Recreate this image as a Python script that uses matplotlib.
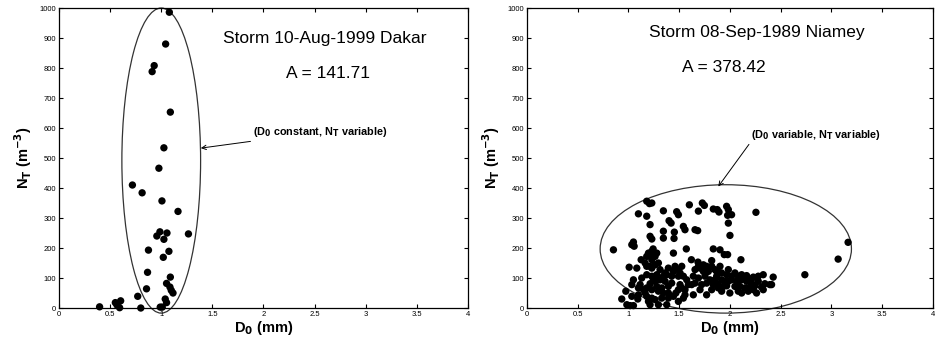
import matplotlib
matplotlib.use("Agg")
import matplotlib.pyplot as plt
from matplotlib.patches import Ellipse

plt.rcParams['font.family'] = ['Liberation Sans', 'DejaVu Sans']

# ---- Left panel data: Dakar 10-Aug-1999 ----
dakar_d0 = [1.079, 1.043, 0.931, 0.911, 1.089, 1.026, 0.977, 0.718, 0.813, 1.007,
            1.164, 1.266, 0.987, 0.957, 1.056, 1.026, 0.875, 1.075, 1.020, 0.866,
            1.089, 1.052, 1.085, 1.098, 1.115, 0.856, 0.770, 1.039, 1.052, 0.990,
            1.010, 0.800, 0.603, 0.551, 0.567, 0.593, 0.397]
dakar_nt = [986, 880, 808, 788, 653, 534, 466, 410, 384, 357,
            322, 247, 254, 240, 250, 229, 193, 189, 169, 119,
            103, 82, 70, 59, 50, 64, 39, 30, 18, 3,
            3, 0, 24, 18, 10, 1, 4]

# ---- Right panel data: Niamey 08-Sep-1989 ----
niamey_d0 = [1.180, 1.207, 1.230, 1.098, 1.180, 1.213, 1.344, 1.475, 1.492, 1.600,
             1.728, 1.748, 1.689, 1.836, 1.875, 1.892, 1.967, 1.984, 2.016, 1.977,
             2.256, 1.984, 2.000, 1.400, 1.420, 1.541, 1.557, 1.656, 1.682, 1.344,
             1.452, 1.213, 1.230, 1.344, 1.449, 1.049, 1.033, 1.056, 0.852, 1.243,
             1.570, 1.836, 1.902, 1.944, 1.977, 1.443, 1.125, 1.207, 1.262, 1.180,
             1.230, 1.295, 1.620, 1.685, 1.820, 1.902, 2.108, 3.066, 3.164, 2.738,
             1.007, 1.082, 1.180, 1.230, 1.311, 1.393, 1.459, 1.492, 1.525, 1.377,
             1.344, 1.426, 1.492, 1.541, 1.656, 1.705, 1.738, 1.787, 1.852, 1.984,
             2.049, 2.115, 2.164, 2.230, 2.328, 2.426, 1.639, 1.689, 1.754, 1.803,
             1.869, 1.918, 1.951, 2.016, 2.066, 2.115, 2.164, 2.213, 2.279, 2.344,
             2.393, 1.656, 1.721, 1.770, 1.836, 1.885, 1.934, 1.967, 2.049, 2.098,
             2.148, 2.197, 2.246, 2.311, 2.410, 2.328, 2.262, 2.082, 2.115, 1.999,
             1.885, 1.770, 1.820, 1.705, 1.590, 1.574, 1.508, 1.426, 1.361, 1.311,
             1.262, 1.230, 1.180, 1.131, 1.049, 1.033, 1.115, 1.213, 1.279, 1.328,
             1.393, 1.492, 1.525, 1.230, 1.180, 1.295, 1.344, 1.393, 1.467, 1.557,
             1.639, 1.541, 1.492, 1.164, 1.098, 1.033, 0.974, 1.092, 0.934, 0.984,
             1.016, 1.049, 1.197, 1.213, 1.295, 1.377, 1.262, 1.328, 1.393, 1.443,
             1.180, 1.230, 1.148, 1.098, 1.246, 1.279, 1.361, 1.443, 1.508, 1.213,
             1.262, 1.164, 1.197, 1.230, 1.279, 1.820, 1.770, 1.738, 1.689, 1.869,
             1.918, 1.967, 2.016, 2.082, 2.148, 2.213, 2.279, 1.852, 1.984, 1.918,
             2.180, 2.230, 1.623, 1.557]
niamey_nt = [356, 348, 350, 314, 306, 278, 324, 321, 311, 344,
             350, 342, 323, 330, 328, 320, 339, 328, 311, 309,
             319, 283, 242, 291, 283, 272, 261, 261, 258, 256,
             253, 239, 230, 233, 232, 220, 211, 206, 194, 197,
             197, 197, 194, 178, 178, 183, 161, 178, 172, 172,
             161, 150, 161, 153, 158, 139, 161, 163, 219, 111,
             136, 133, 139, 133, 128, 133, 139, 128, 139, 111,
             106, 106, 106, 106, 128, 133, 122, 122, 128, 128,
             117, 111, 108, 103, 111, 103, 106, 100, 106, 94,
             106, 94, 89, 94, 89, 94, 89, 83, 89, 81,
             78, 83, 78, 83, 78, 78, 72, 74, 72, 72,
             67, 70, 74, 70, 78, 61, 50, 56, 50, 50,
             67, 44, 61, 61, 78, 94, 78, 83, 89, 94,
             89, 106, 111, 100, 94, 78, 78, 81, 72, 67,
             72, 61, 67, 61, 67, 56, 50, 50, 50, 44,
             44, 33, 22, 50, 44, 39, 56, 30, 30, 11,
             8, 8, 22, 11, 11, 11, 28, 33, 33, 39,
             39, 33, 61, 67, 94, 111, 117, 122, 117, 139,
             144, 150, 183, 189, 183, 139, 139, 144, 139, 122,
             117, 111, 106, 106, 103, 97, 106, 94, 89, 56,
             56, 61, 78, 61]

x_ticks = [0, 0.5, 1, 1.5, 2, 2.5, 3, 3.5, 4]
x_ticklabels = ['0', '0.5', '1', '1.5', '2', '2.5', '3', '3.5', '4']
y_ticks = [0, 100, 200, 300, 400, 500, 600, 700, 800, 900, 1000]

fig = plt.figure(figsize=(9.35, 3.43), dpi=100)
ax1 = fig.add_axes([0.0631, 0.102, 0.4374, 0.8746])
ax2 = fig.add_axes([0.5636, 0.102, 0.4342, 0.8746])

for ax in (ax1, ax2):
    ax.set_xlim(0, 4)
    ax.set_ylim(0, 1000)
    ax.set_xticks(x_ticks)
    ax.set_xticklabels(x_ticklabels)
    ax.set_yticks(y_ticks)
    ax.tick_params(direction='in', top=True, right=True, labelsize=5.5,
                   length=3, width=0.8, pad=2)
    for s in ax.spines.values():
        s.set_linewidth(0.9)
    ax.set_xlabel('D$_\\mathbf{0}$ (mm)', fontsize=10.5, fontweight='bold', labelpad=1)
    ax.set_ylabel('N$_\\mathbf{T}$ (m$^\\mathbf{-3}$)', fontsize=10.5, fontweight='bold', labelpad=4)

# Left panel
ax1.scatter(dakar_d0, dakar_nt, s=28, c='black', edgecolors='none', zorder=3, clip_on=False)
ax1.add_patch(Ellipse((1.0, 491.5), 0.77, 1017, fill=False, edgecolor='#333333',
                      linewidth=0.9, clip_on=False))
ax1.text(2.6, 897, 'Storm 10-Aug-1999 Dakar', fontsize=12.5, ha='center', va='center')
ax1.text(2.63, 781, 'A = 141.71', fontsize=12.5, ha='center', va='center')
ax1.annotate('(D$_\\mathbf{0}$ constant, N$_\\mathbf{T}$ variable)', xy=(1.387, 533),
             xytext=(1.9, 587), fontsize=7.8, fontweight='bold', ha='left', va='center',
             arrowprops=dict(arrowstyle='->', color='black', lw=0.7, shrinkA=0, shrinkB=0))

# Right panel
ax2.scatter(niamey_d0, niamey_nt, s=28, c='black', edgecolors='none', zorder=3, clip_on=False)
ax2.add_patch(Ellipse((1.959, 197), 2.476, 428, fill=False, edgecolor='#333333',
                      linewidth=0.9, clip_on=False))
ax2.text(2.26, 917, 'Storm 08-Sep-1989 Niamey', fontsize=12.5, ha='center', va='center')
ax2.text(1.94, 802, 'A = 378.42', fontsize=12.5, ha='center', va='center')
ax2.annotate('(D$_\\mathbf{0}$ variable, N$_\\mathbf{T}$ variable)', xy=(1.885, 405),
             xytext=(2.207, 578), fontsize=7.8, fontweight='bold', ha='left', va='center',
             arrowprops=dict(arrowstyle='->', color='black', lw=0.7, shrinkA=0, shrinkB=0,
                             relpos=(0, 0)))

fig.savefig('out.png', dpi=100)
